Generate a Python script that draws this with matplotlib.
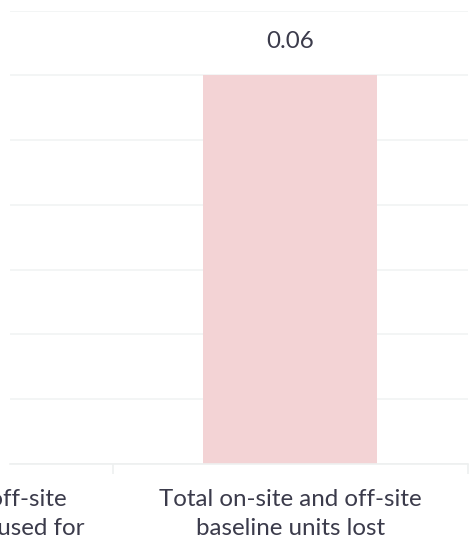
import matplotlib
matplotlib.use("Agg")
import matplotlib.pyplot as plt
from matplotlib.transforms import blended_transform_factory

plt.rcParams['font.family'] = ['Lato', 'DejaVu Sans']

# Data
categories = ["Total on-site and off-site\nbaseline units to be used for",
              "Total on-site and off-site\nbaseline units lost"]
values = [None, 0.06]
value_labels = ["", "0.06"]

text_color = '#3b3b4b'
bar_color = '#f3d3d5'
grid_color = '#f1f3f3'
fsize = 17.4

fig = plt.figure(figsize=(4.73, 5.5), dpi=100)
ax = fig.add_axes([10 / 473, 86 / 550, 458 / 473, 453.3 / 550])

x = [i for i, v in enumerate(values) if v is not None]
y = [v for v in values if v is not None]
ax.bar(x, y, width=0.49, color=bar_color, zorder=2)

for i, v in enumerate(values):
    if v is not None:
        ax.text(i, v + 0.0036, value_labels[i], ha='center', va='bottom',
                fontsize=fsize, color=text_color)

ax.set_xlim(0.211, 1.5)
ax.set_ylim(0, 0.07)
ax.set_yticks([0.01 * k for k in range(8)])
ax.yaxis.grid(True, color=grid_color, linewidth=1.2, zorder=0)
ax.tick_params(axis='y', length=0, labelleft=False)

# category boundary ticks
ax.set_xticks([0.5, 1.5])
ax.set_xticklabels([])
ax.tick_params(axis='x', length=7, width=1.2, color='#eef0f0')

trans = blended_transform_factory(ax.transData, ax.transAxes)
for i, label in enumerate(categories):
    ax.text(i, -0.056, label, transform=trans, ha='center', va='top',
            fontsize=fsize, color=text_color, linespacing=1.42, clip_on=False)

for s in ['top', 'right', 'left']:
    ax.spines[s].set_visible(False)
ax.spines['bottom'].set_color('#eef0f0')
ax.spines['bottom'].set_linewidth(1.2)

fig.savefig('out.png', dpi=100)
